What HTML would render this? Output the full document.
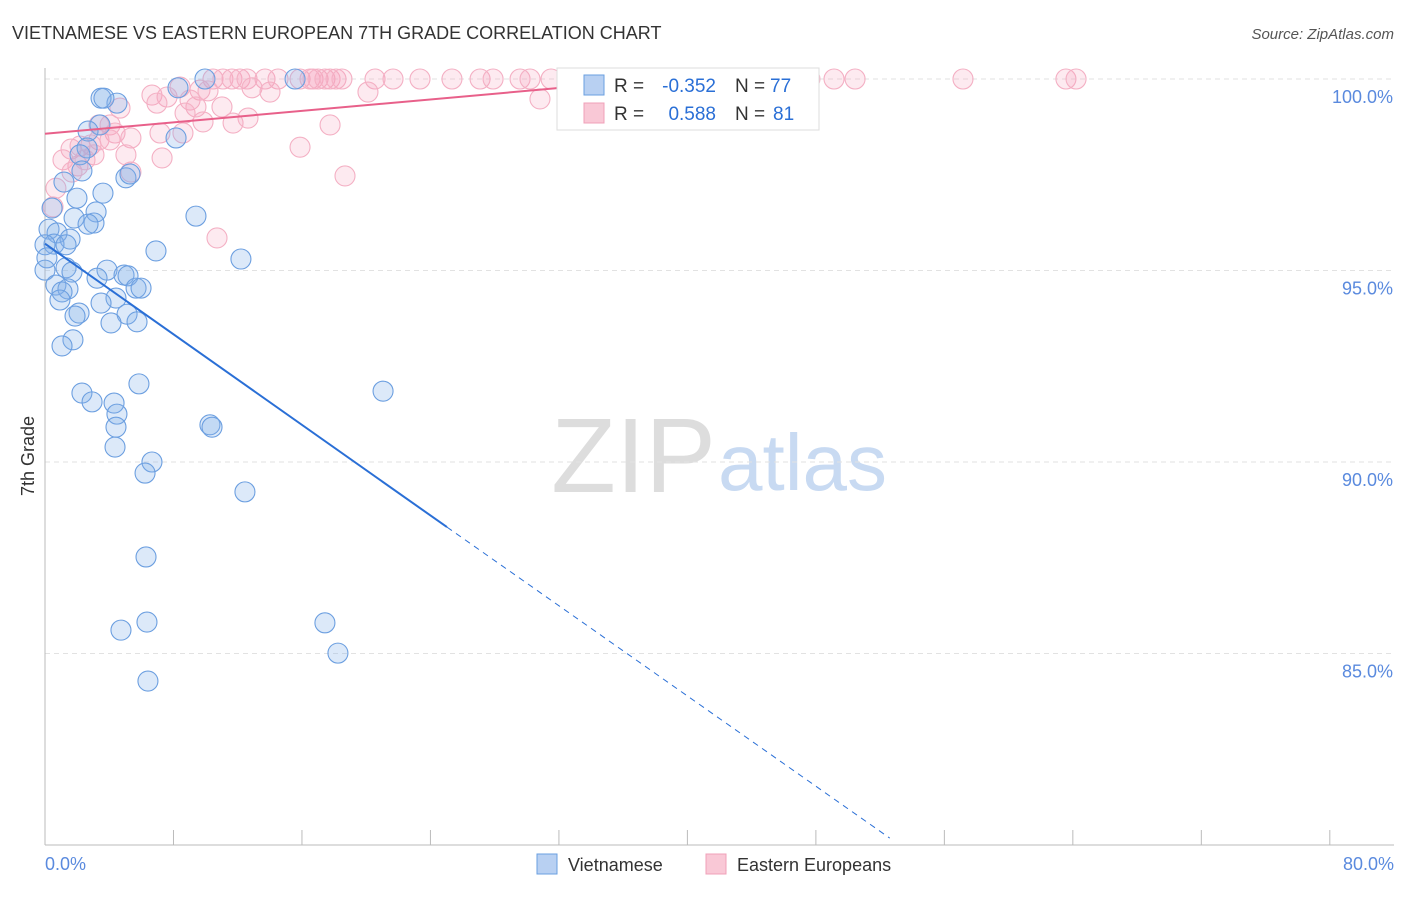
<!DOCTYPE html>
<html><head><meta charset="utf-8"><style>
body{margin:0;background:#fff;font-family:"Liberation Sans",sans-serif}
svg text{font-family:"Liberation Sans",sans-serif}
</style></head><body>
<svg id="c" width="1406" height="892" xmlns="http://www.w3.org/2000/svg">
<text x="12" y="39" font-size="18" fill="#333">VIETNAMESE VS EASTERN EUROPEAN 7TH GRADE CORRELATION CHART</text>
<text x="1394" y="39" font-size="15" fill="#555" text-anchor="end" font-style="italic">Source: ZipAtlas.com</text>
<text x="716" y="492" font-size="106" text-anchor="end" fill="#ddd" font-family="Liberation Serif">ZIP</text>
<text x="718" y="490" font-size="80" fill="#c8daf2">atlas</text>
<text transform="translate(34,456) rotate(-90)" font-size="18" fill="#333" text-anchor="middle">7th Grade</text>
<g id="grid"></g><g id="pts"></g><g id="lines"></g>
<g>
<rect x="557" y="68" width="262" height="62" fill="#fff" stroke="#ddd"/>
<rect x="584" y="75" width="20" height="20" fill="#b8d0f2" stroke="#6a9fe0"/>
<rect x="584" y="103" width="20" height="20" fill="#f9c8d6" stroke="#f0a0b8"/>
<text x="614" y="92" font-size="19" fill="#333">R =</text>
<text x="716" y="92" font-size="19" fill="#2a6fd6" text-anchor="end">-0.352</text>
<text x="735" y="92" font-size="19" fill="#333">N =</text>
<text x="770" y="92" font-size="19" fill="#2a6fd6">77</text>
<text x="614" y="120" font-size="19" fill="#333">R =</text>
<text x="716" y="120" font-size="19" fill="#2a6fd6" text-anchor="end">0.588</text>
<text x="735" y="120" font-size="19" fill="#333">N =</text>
<text x="773" y="120" font-size="19" fill="#2a6fd6">81</text>
</g>
<g>
<rect x="537" y="854" width="20" height="20" fill="#b8d0f2" stroke="#6a9fe0"/>
<text x="568" y="871" font-size="18" fill="#333">Vietnamese</text>
<rect x="706" y="854" width="20" height="20" fill="#f9c8d6" stroke="#f0a0b8"/>
<text x="737" y="871" font-size="18" fill="#333">Eastern Europeans</text>
</g>
</svg>
<script>
const yTicks=[85,90,95,100];
const xTickLabels=["0.0%","80.0%"];
const blueX=[9.96,15.57,8.28,4.48,3.49,3.67,3.42,2.68,2.62,8.16,2.18,2.30,1.18,5.04,5.29,3.61,1.99,0.44,3.18,1.81,3.05,2.68,0.25,0.75,1.56,0.56,0,1.31,9.40,6.91,12.20,0.12,1.31,0,1.68,3.86,4.92,3.24,5.17,0.68,1.43,1.06,5.67,5.98,4.42,3.49,0.93,5.11,2.12,1.87,5.73,4.11,1.74,1.06,21.05,5.85,2.30,2.93,4.30,4.48,4.42,10.27,10.40,4.36,6.66,6.23,12.45,6.29,6.35,4.73,17.43,18.24,6.41];
const blueY=[100,100,99.77,99.37,99.5,99.5,98.8,98.64,98.2,98.46,98.02,97.6,97.31,97.42,97.52,97.02,96.89,96.63,96.53,96.37,96.24,96.21,96.08,95.98,95.82,95.69,95.67,95.67,96.42,95.51,95.3,95.33,95.07,95.01,94.96,95.01,94.88,94.8,94.86,94.62,94.52,94.44,94.54,94.54,94.28,94.15,94.23,93.86,93.89,93.81,93.66,93.63,93.19,93.03,91.85,92.04,91.8,91.57,91.54,91.25,90.91,90.97,90.91,90.39,90,89.71,89.22,87.52,85.82,85.61,85.8,85.01,84.28];
const pinkX=[10.46,11.08,11.64,12.14,12.58,13.70,14.51,15.88,16.50,16.69,17.00,17.43,17.75,18.12,18.49,20.55,21.67,23.35,25.34,27.09,27.90,29.58,30.20,31.51,34.81,35.80,37.80,39.29,44.89,47.63,49.13,50.44,57.16,63.57,64.20,8.41,6.66,7.60,9.65,9.03,10.15,9.40,11.02,6.97,4.67,8.72,12.89,14.01,20.11,30.82,9.84,11.71,12.64,17.75,8.59,3.36,4.05,4.36,5.35,7.16,3.36,1.62,2.18,2.86,3.05,5.04,2.05,1.12,7.29,5.35,15.88,18.68,0.68,0.50,10.71,1.68,2.49,4.05];
const pinkY=[100,100,100,100,100,100,100,100,100,100,100,100,100,100,100,100,100,100,100,100,100,100,100,100,100,100,100,100,100,100,100,100,100,100,100,99.79,99.58,99.53,99.71,99.45,99.69,99.27,99.27,99.37,99.24,99.11,99.77,99.66,99.66,99.48,98.88,98.85,98.98,98.8,98.59,98.8,98.8,98.59,98.46,98.59,98.41,98.17,98.25,98.28,98.02,98.02,97.73,97.89,97.94,97.57,98.22,97.47,97.15,96.66,95.85,97.57,97.89,98.41];
const blueTrend=[[0,95.7],[25.03,88.3],[52.6,80.18]];
const pinkTrend=[[0,98.57],[38.3,100]];
const NS="http://www.w3.org/2000/svg";
const X=v=>45+v*16.06, Y=v=>845-(v-80)*38.3;
function mk(t,a,p){const e=document.createElementNS(NS,t);for(const k in a)e.setAttribute(k,a[k]);p.appendChild(e);return e;}
const g=document.getElementById('grid');
yTicks.forEach(t=>{const l=mk('line',{x1:45,x2:1394,y1:Y(t),y2:Y(t),stroke:'#e2e2e2','stroke-dasharray':'5,4'},g);


const tx=mk('text',{x:1393,y:Y(t)+24,'font-size':18,fill:'#5a8ade','text-anchor':'end'},g);tx.textContent=t.toFixed(1)+'%';

});
const ax=mk('line',{x1:45,x2:45,y1:68,y2:845,stroke:'#bbb'},g);


const bx=mk('line',{x1:45,x2:1394,y1:845,y2:845,stroke:'#bbb'},g);


for(let i=0;i<=10;i++){const t=mk('line',{x1:X(i*8),x2:X(i*8),y1:830,y2:845,stroke:'#bbb'},g);

}
[[0,'start'],[80,'end']].forEach((d,i)=>{const t=mk('text',{x:d[0]?1394:45,y:870,'font-size':18,fill:'#5a8ade','text-anchor':d[1]},g);t.textContent=xTickLabels[i];

});
const p=document.getElementById('pts');
pinkX.forEach((x,i)=>{const c=mk('circle',{cx:X(x),cy:Y(pinkY[i]),r:10,fill:'rgba(244,160,188,0.22)',stroke:'#f4b0c4','stroke-width':1.1},p);

});
blueX.forEach((x,i)=>{const c=mk('circle',{cx:X(x),cy:Y(blueY[i]),r:10,fill:'rgba(130,175,235,0.28)',stroke:'#6c9fe0','stroke-width':1.1},p);

});
const L=document.getElementById('lines');
const b1=mk('line',{x1:X(blueTrend[0][0]),y1:Y(blueTrend[0][1]),x2:X(blueTrend[1][0]),y2:Y(blueTrend[1][1]),stroke:'#2a6fd6','stroke-width':2},L);


const b2=mk('line',{x1:X(blueTrend[1][0]),y1:Y(blueTrend[1][1]),x2:X(blueTrend[2][0]),y2:Y(blueTrend[2][1]),stroke:'#2a6fd6','stroke-width':1,'stroke-dasharray':'6,5'},L);


const p1=mk('line',{x1:X(pinkTrend[0][0]),y1:Y(pinkTrend[0][1]),x2:X(pinkTrend[1][0]),y2:Y(pinkTrend[1][1]),stroke:'#e8608a','stroke-width':2},L);


</script>
</body></html>
